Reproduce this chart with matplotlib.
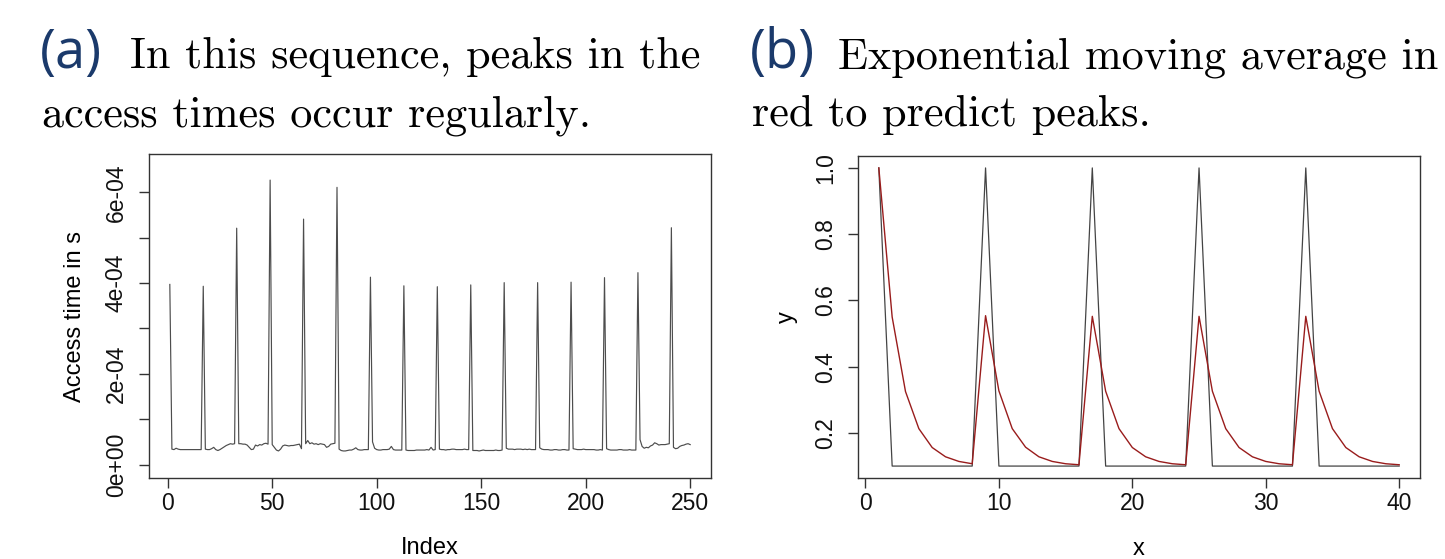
import matplotlib
matplotlib.use("Agg")
import matplotlib.pyplot as plt
from matplotlib.ticker import FixedLocator, FixedFormatter

# ---------------- data: panel (a) ----------------
peak_index = [1, 17, 33, 49, 65, 81, 97, 113, 129, 145, 161, 177, 193, 209, 225, 241]
peak_values = [3.97e-4, 3.93e-4, 5.21e-4, 6.27e-4, 5.41e-4, 6.11e-4, 4.13e-4, 3.94e-4,
               3.92e-4, 3.96e-4, 4.01e-4, 4.01e-4, 4.02e-4, 4.12e-4, 4.23e-4, 5.22e-4]
# baseline segments between peaks (units of 1e-5 s)
seg_a = [3.4, 3.3, 3.6, 3.4, 3.3, 3.3, 3.3, 3.3, 3.3, 3.3, 3.3, 3.3, 3.3, 3.3, 3.3]
seg_b = [3.4, 3.3, 3.3, 3.5, 3.8, 3.3, 3.1, 3.3, 3.6, 3.9, 4.2, 4.4, 4.6, 4.5, 4.6]
seg_c = [4.6, 4.6, 4.5, 4.5, 4.3, 3.8, 3.3, 3.4, 4.3, 4.1, 4.4, 4.3, 4.6, 4.7, 4.5]
seg_d = [4.4, 3.8, 3.2, 3.0, 3.4, 4.1, 4.3, 4.2, 4.1, 4.2, 4.2, 4.3, 4.4, 4.5, 3.5]
seg_e = [4.6, 5.3, 4.6, 4.8, 4.5, 4.6, 4.4, 4.6, 4.5, 4.4, 3.8, 4.0, 4.5, 4.6, 4.7]
seg_f = [3.4, 3.1, 3.0, 3.0, 3.1, 3.2, 3.2, 3.4, 3.7, 3.3, 3.2, 3.2, 3.3, 3.3, 3.3]
seg_g = [5.0, 3.6, 3.3, 3.2, 3.2, 3.3, 3.3, 3.3, 3.4, 4.0, 3.3, 3.2, 3.2, 3.2, 3.2]
seg_h = [3.2, 3.1, 3.1, 3.1, 3.1, 3.2, 3.2, 3.2, 3.2, 3.2, 3.3, 3.2, 3.8, 3.2, 3.3]
seg_i = [3.4, 3.3, 3.3, 3.2, 3.3, 3.3, 3.4, 3.4, 3.3, 3.3, 3.3, 3.3, 3.4, 3.3, 3.3]
seg_j = [3.1, 3.1, 3.1, 3.0, 3.1, 3.2, 3.1, 3.1, 3.1, 3.1, 3.1, 3.2, 3.1, 3.1, 3.2]
seg_k = [3.6, 3.4, 3.4, 3.4, 3.3, 3.4, 3.4, 3.4, 3.3, 3.4, 3.3, 3.4, 3.3, 3.3, 3.3]
seg_l = [3.7, 3.4, 3.3, 3.3, 3.3, 3.2, 3.2, 3.3, 3.3, 3.2, 3.2, 3.3, 3.3, 3.2, 3.2]
seg_m = [3.5, 3.4, 3.3, 3.3, 3.3, 3.4, 3.3, 3.3, 3.3, 3.3, 3.3, 3.2, 3.2, 3.3, 3.2]
seg_n = [3.5, 3.3, 3.2, 3.2, 3.2, 3.2, 3.3, 3.3, 3.2, 3.2, 3.2, 3.3, 3.2, 3.2, 3.2]
seg_o = [5.5, 4.0, 3.6, 3.8, 3.7, 4.1, 4.3, 4.8, 4.6, 4.3, 4.4, 4.4, 4.4, 4.5, 4.6]
seg_p = [3.8, 3.5, 3.6, 4.0, 4.2, 4.3, 4.5, 4.6, 4.4]
segments = [seg_a, seg_b, seg_c, seg_d, seg_e, seg_f, seg_g, seg_h,
            seg_i, seg_j, seg_k, seg_l, seg_m, seg_n, seg_o, seg_p]

access_time = []
for pv, seg in zip(peak_values, segments):
    access_time.append(pv)
    access_time.extend(v * 1e-5 for v in seg)
index = list(range(1, len(access_time) + 1))

left_xticks = [0, 50, 100, 150, 200, 250]
left_yticks = [0, 1e-4, 2e-4, 3e-4, 4e-4, 5e-4, 6e-4]
left_ytick_labels = ["0e+00", "", "2e-04", "", "4e-04", "", "6e-04"]

# ---------------- data: panel (b) ----------------
x_b = list(range(1, 41))
y_b = [1.0, 0.1, 0.1, 0.1, 0.1, 0.1, 0.1, 0.1,
       1.0, 0.1, 0.1, 0.1, 0.1, 0.1, 0.1, 0.1,
       1.0, 0.1, 0.1, 0.1, 0.1, 0.1, 0.1, 0.1,
       1.0, 0.1, 0.1, 0.1, 0.1, 0.1, 0.1, 0.1,
       1.0, 0.1, 0.1, 0.1, 0.1, 0.1, 0.1, 0.1]
ema_b = [1.000, 0.550, 0.325, 0.213, 0.156, 0.128, 0.114, 0.107,
         0.554, 0.327, 0.213, 0.157, 0.128, 0.114, 0.107, 0.104,
         0.552, 0.326, 0.213, 0.156, 0.128, 0.114, 0.107, 0.104,
         0.552, 0.326, 0.213, 0.156, 0.128, 0.114, 0.107, 0.104,
         0.552, 0.326, 0.213, 0.156, 0.128, 0.114, 0.107, 0.104]
right_xticks = [0, 10, 20, 30, 40]
right_yticks = [0.2, 0.4, 0.6, 0.8, 1.0]
right_ytick_labels = ["0.2", "0.4", "0.6", "0.8", "1.0"]

# ---------------- figure ----------------
W, H = 1445, 559
fig = plt.figure(figsize=(W / 100, H / 100), dpi=100)
plt.rcParams["font.family"] = ["Liberation Sans", "DejaVu Sans"]

def ax_rect(x0, y0, x1, y1):
    return [x0 / W, 1 - y1 / H, (x1 - x0) / W, (y1 - y0) / H]

def fx(px):
    return px / W

def fy(py):
    return 1 - py / H

ax1 = fig.add_axes(ax_rect(149, 154, 711, 478))
ax2 = fig.add_axes(ax_rect(858, 156, 1420, 478))

box_col = "#333333"
tick_fs = 16.5
label_fs = 17
for ax in (ax1, ax2):
    for s in ax.spines.values():
        s.set_color(box_col)
        s.set_linewidth(1.0)
    ax.tick_params(axis="both", direction="out", length=7.2, width=1.0,
                   color=box_col, labelsize=tick_fs, labelcolor="#111111")
    ax.tick_params(axis="x", pad=3)
    ax.tick_params(axis="y", pad=8)

# panel (a)
ax1.plot(index, access_time, color="#4d4d4d", lw=0.85)
ax1.set_xlim(-8.96, 259.96)
ax1.set_ylim(-2.96e-5, 6.845e-4)
ax1.xaxis.set_major_locator(FixedLocator(left_xticks))
ax1.yaxis.set_major_locator(FixedLocator(left_yticks))
ax1.yaxis.set_major_formatter(FixedFormatter(left_ytick_labels))
for lab in ax1.get_yticklabels():
    lab.set_rotation(90)
    lab.set_va("center")
fig.text(fx(430), fy(548), "Index", fontsize=label_fs, ha="center", va="center")
fig.text(fx(75), fy(316), "Access time in s", fontsize=label_fs, ha="center",
         va="center", rotation=90)

# panel (b)
ax2.plot(x_b, y_b, color="#444444", lw=0.9)
ax2.plot(x_b, ema_b, color="#991c1c", lw=1.0)
ax2.set_xlim(-0.56, 41.56)
ax2.set_ylim(0.064, 1.036)
ax2.xaxis.set_major_locator(FixedLocator(right_xticks))
ax2.yaxis.set_major_locator(FixedLocator(right_yticks))
ax2.yaxis.set_major_formatter(FixedFormatter(right_ytick_labels))
for lab in ax2.get_yticklabels():
    lab.set_rotation(90)
    lab.set_va("center")
fig.text(fx(1139), fy(549), "x", fontsize=label_fs, ha="center", va="center")
fig.text(fx(787), fy(317), "y", fontsize=label_fs, ha="center", va="center",
         rotation=90)

# ---------------- titles ----------------
blue = "#1b3a6b"
title_fs = 31.8
tag_fs = 39
sans = ["Open Sans", "DejaVu Sans"]
serif = ["cmr10", "DejaVu Serif"]
y1 = fy(68)
y2 = fy(126)
fig.text(fx(40), y1, "(a)", fontsize=tag_fs, color=blue, family=sans, va="baseline")
fig.text(fx(130), y1, "In this sequence, peaks in the", fontsize=title_fs, family=serif, va="baseline")
fig.text(fx(42), y2, "access times occur regularly.", fontsize=title_fs, family=serif, va="baseline")
fig.text(fx(750), y1, "(b)", fontsize=tag_fs, color=blue, family=sans, va="baseline")
fig.text(fx(838), y1, "Exponential moving average in", fontsize=title_fs, family=serif, va="baseline")
fig.text(fx(752), y2, "red to predict peaks.", fontsize=title_fs, family=serif, va="baseline")

fig.savefig("out.png", dpi=100)
